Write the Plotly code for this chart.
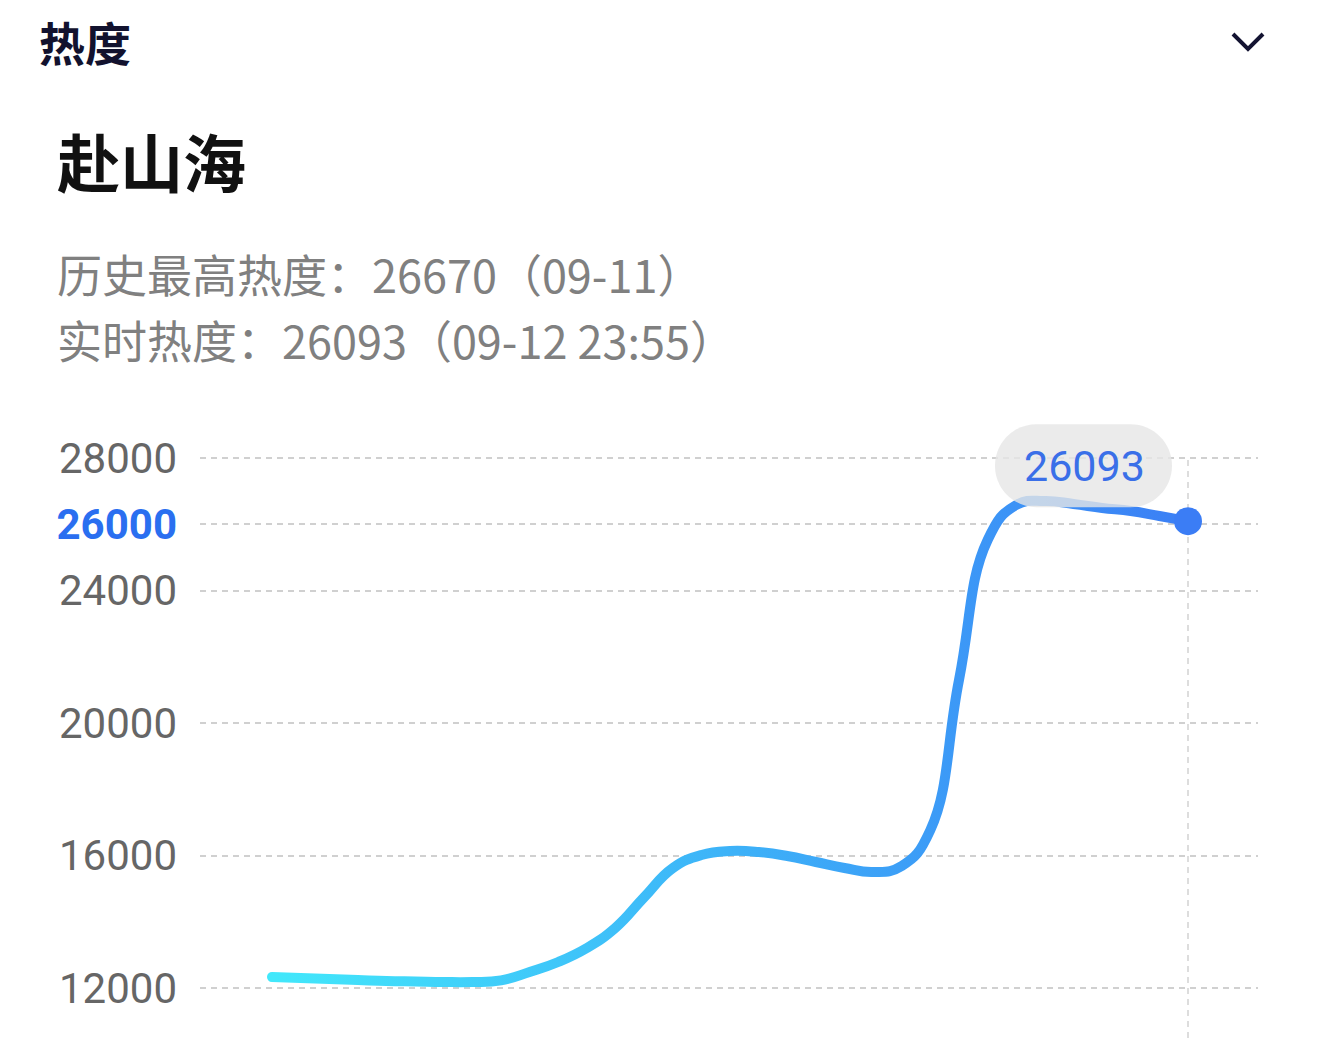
import plotly.graph_objects as go

# ---------------- data ----------------
time_index = list(range(33))
heat = [12332, 12302, 12272, 12242, 12211, 12196, 12181, 12181, 12230,
        12483, 12785, 13208, 13820, 14740, 15620, 16015, 16136, 16106,
        15985, 15804, 15623, 15502, 15683, 16770, 21298, 25525, 26581,
        26702, 26611, 26491, 26400, 26249, 26093]
ytick_vals = [12000, 16000, 20000, 24000, 26000, 28000]
ytick_labels = ["12000", "16000", "20000", "24000", "26000", "28000"]
highlight_tick = "26000"
section_title = "热度"
topic_name = "赴山海"
history_line = "历史最高热度：26670（09-11）"
live_line = "实时热度：26093（09-12 23:55）"
current_label = "26093"

# ---------------- layout geometry ----------------
W, H = 1320, 1038
ML, MR, MT, MB = 200, 62, 400, 0
PW, PH = W - ML - MR, H - MT - MB

def fx(px):
    return (px - ML) / PW

def fy(py):
    return (H - MB - py) / PH

# y range from pixel anchors: 28000 -> 458px, 12000 -> 988px
u_per_px = (28000 - 12000) / (988 - 458)
y_lo = 12000 - (H - MB - 988) * u_per_px
y_hi = 28000 + (458 - MT) * u_per_px
# x range: first point at 272px, last at 1188px
x_per_px = (len(time_index) - 1) / (1188 - 272)
x_lo = time_index[0] - (272 - ML) * x_per_px
x_hi = time_index[-1] + (W - MR - 1188) * x_per_px

ticktext = []
for t in ytick_labels:
    if t == highlight_tick:
        ticktext.append("<b><span style='color:#2a6ff0'>%s</span></b>" % t)
    else:
        ticktext.append(t)

fig = go.Figure()
fig.add_trace(go.Scatter(
    x=time_index, y=heat, mode="lines",
    line=dict(color="#3ca8f8", width=10, shape="spline", smoothing=1.3),
    hoverinfo="skip", showlegend=False,
))
fig.add_trace(go.Scatter(
    x=[time_index[-1]], y=[heat[-1]], mode="markers",
    marker=dict(size=28, color="#3b7df5"),
    hoverinfo="skip", showlegend=False,
))

# cursor line
fig.add_shape(type="line", xref="x", yref="paper",
              x0=time_index[-1], x1=time_index[-1], y0=0, y1=fy(455),
              line=dict(color="#d2d2d2", width=1.5, dash="6px,5px"),
              layer="below")

# tooltip bubble anchored on last point (pixel offsets)
left, right, bottom, top = -193, -16, 14, 97
r = (top - bottom) / 2
cy = (top + bottom) / 2
k = 0.5523 * r
path = (
    f"M{left + r},{bottom} L{right - r},{bottom} "
    f"C{right - r + k},{bottom} {right},{cy - k} {right},{cy} "
    f"C{right},{cy + k} {right - r + k},{top} {right - r},{top} "
    f"L{left + r},{top} "
    f"C{left + r - k},{top} {left},{cy + k} {left},{cy} "
    f"C{left},{cy - k} {left + r - k},{bottom} {left + r},{bottom} Z"
)
fig.add_shape(type="path", xref="x", yref="y",
              xsizemode="pixel", ysizemode="pixel",
              xanchor=time_index[-1], yanchor=heat[-1],
              path=path, fillcolor="rgba(230,230,230,0.8)",
              line=dict(width=0), layer="above")
fig.add_annotation(x=time_index[-1], y=heat[-1], xref="x", yref="y",
                   text=current_label, showarrow=False,
                   xshift=-104, yshift=55,
                   font=dict(family="Roboto", size=43, color="#3a6fe8"))

# chevron
fig.add_shape(type="path", xref="paper", yref="paper",
              path=f"M{fx(1233)},{fy(34)} L{fx(1248)},{fy(49)} L{fx(1263)},{fy(34)}",
              line=dict(color="#141432", width=4))

cjk = "Noto Sans CJK SC"
fig.add_annotation(x=fx(37), y=fy(41), xref="paper", yref="paper",
                   xanchor="left", yanchor="middle", showarrow=False,
                   text="<b>%s</b>" % section_title,
                   font=dict(family=cjk, size=46, color="#12122e"))
fig.add_annotation(x=fx(55), y=fy(159), xref="paper", yref="paper",
                   xanchor="left", yanchor="middle", showarrow=False,
                   text="<b>%s</b>" % topic_name,
                   font=dict(family=cjk, size=63, color="#111111"))
fig.add_annotation(x=fx(55), y=fy(273), xref="paper", yref="paper",
                   xanchor="left", yanchor="middle", showarrow=False,
                   text=history_line,
                   font=dict(family=cjk, size=45, color="#808080"))
fig.add_annotation(x=fx(55), y=fy(339), xref="paper", yref="paper",
                   xanchor="left", yanchor="middle", showarrow=False,
                   text=live_line,
                   font=dict(family=cjk, size=45, color="#808080"))

fig.update_layout(
    width=W, height=H,
    margin=dict(l=ML, r=MR, t=MT, b=MB, pad=0),
    paper_bgcolor="white", plot_bgcolor="white",
    hovermode=False, showlegend=False,
    xaxis=dict(range=[x_lo, x_hi], showgrid=False, zeroline=False,
               showticklabels=False, showline=False, fixedrange=True),
    yaxis=dict(range=[y_lo, y_hi], tickvals=ytick_vals, ticktext=ticktext,
               showgrid=True, gridcolor="#d0d0d0", gridwidth=2,
               griddash="6px,5px", zeroline=False, showline=False,
               ticks="", ticklabelstandoff=22,
               tickfont=dict(family="Roboto", size=42, color="#666666"),
               fixedrange=True),
)

post = """
document.body.style.margin = '0';
var gd = document.getElementById('{plot_id}');
var ns = 'http://www.w3.org/2000/svg';
var svg = gd.querySelector('svg.main-svg');
var defs = svg.querySelector('defs');
if (!defs) { defs = document.createElementNS(ns, 'defs'); svg.insertBefore(defs, svg.firstChild); }
var lg = document.createElementNS(ns, 'linearGradient');
lg.setAttribute('id', 'heatLineGrad');
lg.setAttribute('x1', '0'); lg.setAttribute('y1', '0');
lg.setAttribute('x2', '1'); lg.setAttribute('y2', '0');
[['0', '#42e8fb'], ['0.5', '#3db2f8'], ['1', '#3b7ff5']].forEach(function(s) {
  var st = document.createElementNS(ns, 'stop');
  st.setAttribute('offset', s[0]); st.setAttribute('stop-color', s[1]);
  lg.appendChild(st);
});
defs.appendChild(lg);
var tr = gd.querySelectorAll('.scatterlayer .trace')[0];
if (tr) { tr.querySelectorAll('path.js-line').forEach(function(p) { p.style.stroke = 'url(#heatLineGrad)'; p.style.strokeLinecap = 'round'; }); }
"""

fig.write_html("out.html", post_script=post, config={"displayModeBar": False})
